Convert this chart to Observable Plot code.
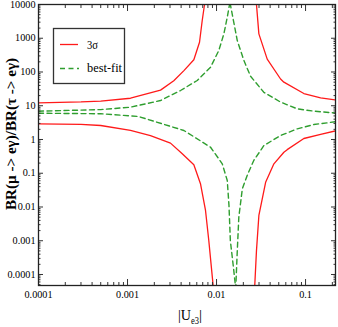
<!DOCTYPE html>
<html><head><meta charset="utf-8">
<script src="https://cdn.jsdelivr.net/npm/d3@7"></script>
<script src="https://cdn.jsdelivr.net/npm/@observablehq/plot@0.6"></script>
<style>
body{margin:0;background:#fff}
</style></head><body><div id="chart"></div>
<script>
// tick labels
const xMajor = [0.0001, 0.001, 0.01, 0.1];
const yMajor = [0.0001, 0.001, 0.01, 0.1, 1, 10, 100, 1000, 10000];
const xDomain = [0.0001, 0.217];
const yDomain = [4.72e-5, 10000];

// series: 3 sigma (red)
const red3sUpperLeftX  = [0.0001, 0.0003, 0.0005, 0.00108, 0.00235, 0.00331, 0.0043, 0.00556, 0.00644, 0.0069, 0.00733, 0.0076];
const red3sUpperLeftY  = [12.2, 13.0, 13.8, 16.7, 29, 55, 110, 230, 760, 3300, 10000, 30000];
const red3sLowerLeftX  = [0.0001, 0.0003, 0.0005, 0.00108, 0.00181, 0.00304, 0.00412, 0.00556, 0.0066, 0.00752, 0.00819, 0.00914, 0.0094];
const red3sLowerLeftY  = [2.92, 2.8, 2.6, 1.85, 1.31, 0.78, 0.377, 0.178, 0.049, 0.0079, 0.001, 5e-5, 2e-5];
const red3sUpperRightX = [0.0265, 0.0281, 0.0299, 0.0371, 0.0524, 0.0571, 0.0957, 0.1476, 0.227];
const red3sUpperRightY = [30000, 10000, 1350, 240, 62, 50, 23, 17.2, 14.5];
const red3sLowerRightX = [0.0262, 0.0269, 0.0281, 0.0299, 0.0356, 0.0441, 0.0571, 0.0622, 0.0957, 0.1476, 0.227];
const red3sLowerRightY = [1e-5, 5e-5, 5.1e-4, 0.0056, 0.054, 0.19, 0.42, 0.5, 1.07, 1.41, 1.85];

// series: best-fit (green dashed)
const bestUpperLeftX  = [0.0001, 0.0005, 0.00108, 0.00235, 0.00394, 0.00607, 0.00857, 0.0106, 0.0121, 0.0132, 0.0140, 0.0143];
const bestUpperLeftY  = [6.9, 7.7, 9.06, 14.3, 28.3, 56, 139, 434, 1355, 4200, 10000, 20000];
const bestLowerLeftX  = [0.0001, 0.0005, 0.00133, 0.0043, 0.00857, 0.0116, 0.0132, 0.0138, 0.0143, 0.0154, 0.0163, 0.0166];
const bestLowerLeftY  = [6.0, 5.8, 4.8, 1.85, 0.59, 0.19, 0.061, 0.011, 0.001, 1.85e-4, 4.7e-5, 2e-5];
const bestUpperRightX = [0.0141, 0.0143, 0.0171, 0.0203, 0.0241, 0.034, 0.0524, 0.0807, 0.124, 0.227];
const bestUpperRightY = [20000, 10000, 857, 219, 75, 25, 12.8, 8.1, 6.9, 6.0];
const bestLowerRightX = [0.0163, 0.0165, 0.0171, 0.0178, 0.0195, 0.0221, 0.0262, 0.0312, 0.034, 0.0524, 0.0807, 0.124, 0.227];
const bestLowerRightY = [2e-5, 5e-5, 5e-4, 0.005, 0.035, 0.086, 0.24, 0.47, 0.66, 1.31, 2.07, 2.78, 3.41];

const legendLabels = ["3σ", "best-fit"];
const yTitle = "BR(μ -> eγ)/BR(τ -> eγ)";
const redColor = "#ff1a1a", greenColor = "#2f9e2f";

const serifFont = "'Liberation Serif', 'Times New Roman', 'DejaVu Serif', serif";

const pts = (xs, ys) => xs.map((x, i) => ({x, y: ys[i]}));
const minor = (lo, hi) => {
  const out = [];
  for (let e = Math.floor(Math.log10(lo)); e <= Math.ceil(Math.log10(hi)); e++)
    for (let m = 2; m <= 9; m++) { const v = m * Math.pow(10, e); if (v > lo && v < hi) out.push(v); }
  return out;
};
const xMinor = minor(xDomain[0], xDomain[1]);
const yMinor = minor(yDomain[0], yDomain[1]);

const redLine = (xs, ys) => Plot.line(pts(xs, ys), {x: "x", y: "y", stroke: redColor, strokeWidth: 1.3, clip: true});
const greenLine = (xs, ys) => Plot.line(pts(xs, ys), {x: "x", y: "y", stroke: greenColor, strokeWidth: 1.4, strokeDasharray: "5,3.5", clip: true});

const tickAx = (anchor, ticks, size) => (anchor === "bottom" || anchor === "top")
  ? Plot.axisX({anchor, ticks, tickSize: size, fill: "none", label: null, stroke: "#333"})
  : Plot.axisY({anchor, ticks, tickSize: size, fill: "none", label: null, stroke: "#333"});

const plot = Plot.plot({
  width: 338, height: 327,
  marginTop: 4, marginRight: 3, marginBottom: 42, marginLeft: 38,
  x: {type: "log", domain: xDomain},
  y: {type: "log", domain: yDomain},
  style: {fontSize: "10px", color: "#000", background: "#fff", fontFamily: serifFont},
  marks: [
    redLine(red3sUpperLeftX, red3sUpperLeftY),
    redLine(red3sLowerLeftX, red3sLowerLeftY),
    redLine(red3sUpperRightX, red3sUpperRightY),
    redLine(red3sLowerRightX, red3sLowerRightY),
    greenLine(bestUpperLeftX, bestUpperLeftY),
    greenLine(bestLowerLeftX, bestLowerLeftY),
    greenLine(bestUpperRightX, bestUpperRightY),
    greenLine(bestLowerRightX, bestLowerRightY),
    Plot.axisX({anchor: "bottom", ticks: xMajor, tickSize: 0, tickPadding: 5, tickFormat: d => String(d), label: null}),
    Plot.axisY({anchor: "left", ticks: yMajor, tickSize: 0, tickPadding: 3, tickFormat: d => String(d), label: null}),
    tickAx("bottom", xMajor, -6), tickAx("bottom", xMinor, -3),
    tickAx("top", xMajor, -6), tickAx("top", xMinor, -3),
    tickAx("left", yMajor, -5), tickAx("left", yMinor, -2.5),
    tickAx("right", yMajor, -5), tickAx("right", yMinor, -2.5),
    Plot.frame({stroke: "#222", strokeWidth: 1.3})
  ]
});
document.getElementById("chart").appendChild(plot);

const svg = d3.select(plot);
// condense tick labels to Times-like widths
svg.selectAll("g[aria-label='x-axis tick label'] text, g[aria-label='y-axis tick label'] text").each(function () {
  const s = this.textContent;
  const n = s.replace(/[^0-9]/g, "").length, dots = s.replace(/[^.]/g, "").length;
  this.setAttribute("textLength", (n * 0.5 + dots * 0.25) * 10.2);
  this.setAttribute("lengthAdjust", "spacingAndGlyphs");
});
// y axis title
svg.append("text")
  .attr("transform", "translate(11,134) rotate(-90)")
  .attr("text-anchor", "middle").attr("dominant-baseline", "central")
  .attr("font-size", 15).attr("font-weight", "bold").attr("fill", "#000")
  .attr("textLength", 152).attr("lengthAdjust", "spacingAndGlyphs")
  .text(yTitle);
// x axis title with subscript
const xt = svg.append("text")
  .attr("x", 178).attr("y", 320).attr("text-anchor", "start")
  .attr("font-size", 15).attr("fill", "#000");
xt.append("tspan").attr("textLength", 13).attr("lengthAdjust", "spacingAndGlyphs").text("|U");
xt.append("tspan").attr("font-size", 10).attr("dy", 4).attr("textLength", 8).attr("lengthAdjust", "spacingAndGlyphs").text("e3");
xt.append("tspan").attr("dy", -4).text("|");

// legend
const lg = svg.append("g");
lg.append("rect").attr("x", 53.5).attr("y", 28.5).attr("width", 71).attr("height", 55)
  .attr("fill", "#fff").attr("stroke", "#333").attr("stroke-width", 1.3);
lg.append("line").attr("x1", 60).attr("x2", 78).attr("y1", 44.5).attr("y2", 44.5)
  .attr("stroke", redColor).attr("stroke-width", 1.3);
lg.append("line").attr("x1", 60).attr("x2", 79).attr("y1", 68.5).attr("y2", 68.5)
  .attr("stroke", greenColor).attr("stroke-width", 1.4).attr("stroke-dasharray", "5,3.5");
lg.append("text").attr("x", 87).attr("y", 45).attr("dominant-baseline", "central").attr("text-anchor", "start")
  .attr("font-size", 12).attr("fill", "#000").attr("textLength", 11).attr("lengthAdjust", "spacingAndGlyphs").text(legendLabels[0]);
lg.append("text").attr("x", 87).attr("y", 68).attr("dominant-baseline", "central").attr("text-anchor", "start")
  .attr("font-size", 12).attr("fill", "#000").attr("textLength", 35).attr("lengthAdjust", "spacingAndGlyphs").text(legendLabels[1]);
</script>
</body></html>
